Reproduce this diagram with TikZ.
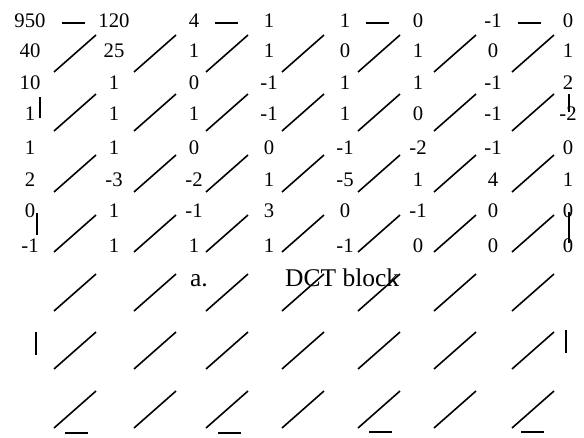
\documentclass[tikz,border=0pt]{standalone}
\usepackage{fontspec}
\setmainfont{Liberation Serif}
\begin{document}
\begin{tikzpicture}[x=1pt,y=-1pt,
  stroke/.style={line width=1.6pt,line cap=butt},
  num/.style={anchor=base,inner sep=0pt,font=\fontsize{20.7}{24}\selectfont},
  captext/.style={anchor=base west,inner sep=0pt,font=\fontsize{25.5}{30}\selectfont}]
\useasboundingbox (0,0) rectangle (584,437);
% numbers
\def\colx{{30,114,194,269,345,418,493,568}}
\def\rowy{{27,57,89,120,154,186,217,252}}
\foreach \r/\vals in {0/{950,120,4,1,1,0,-1,0},
                      1/{40,25,1,1,0,1,0,1},
                      2/{10,1,0,-1,1,1,-1,2},
                      3/{1,1,1,-1,1,0,-1,-2},
                      4/{1,1,0,0,-1,-2,-1,0},
                      5/{2,-3,-2,1,-5,1,4,1},
                      6/{0,1,-1,3,0,-1,0,0},
                      7/{-1,1,1,1,-1,0,0,0}}{
  \foreach \v [count=\c from 0] in \vals {
    \pgfmathsetmacro{\xx}{\colx[\c]}
    \pgfmathsetmacro{\yy}{\rowy[\r]}
    \node[num] (m-\r-\c) at (\xx,\yy) {\v};
  }
}
% caption
\node[captext,anchor=base] (capa) at (199,286) {a.};
\node[captext] (capb) at (285,286) {DCT block};
% diagonal strokes
\foreach \xs in {54,134,206,282,358,434,512}{
  \foreach \yb in {72,131,192,252,311,369,428}{
    \draw[stroke] (\xs,\yb) -- ++(42,-37);
  }
}
% horizontal strokes
\foreach \xa/\y in {62/23,215/23,366/23,518/23,65/433,218/433,369/432,521/432}{
  \draw[stroke] (\xa,\y) -- ++(23,0);
}
% vertical strokes
\draw[stroke] (40,97) -- (40,118);
\draw[stroke] (37,213) -- (37,235);
\draw[stroke] (36,332) -- (36,355);
\draw[stroke] (569,94) -- (569,112);
\draw[stroke] (569,212) -- (569,243);
\draw[stroke] (566,330) -- (566,353);
\end{tikzpicture}
\end{document}
